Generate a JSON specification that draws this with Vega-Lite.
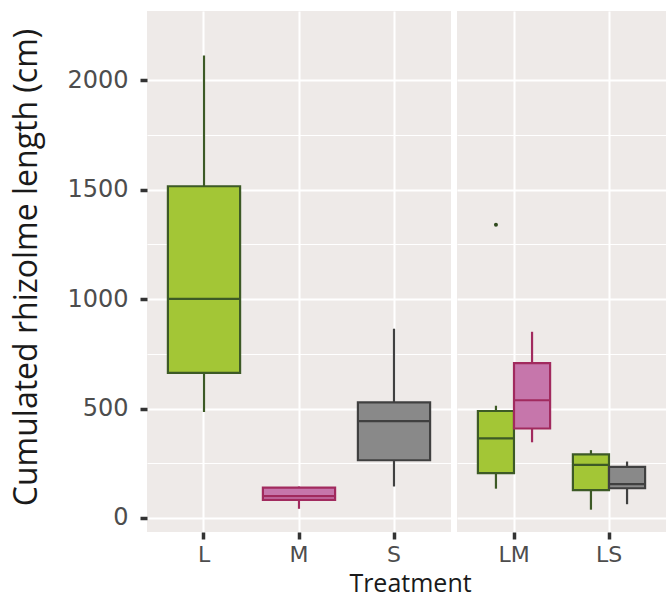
{
  "$schema": "https://vega.github.io/schema/vega-lite/v6.json",
  "background": "white",
  "padding": {"left": 10, "top": 11, "right": 0, "bottom": 0},
  "spacing": 6,
  "bounds": "flush",
  "config": {
    "view": {"stroke": null, "fill": "#EEEAE8"},
    "axis": {
      "domain": false,
      "tickColor": "#333333",
      "tickWidth": 3.5,
      "tickSize": 7,
      "labelColor": "#4D4D4D",
      "labelFont": "DejaVu Sans",
      "labelFontSize": 24,
      "gridColor": "white",
      "titleFont": "Open Sans",
      "titleFontWeight": "normal",
      "titleColor": "#1A1A1A"
    }
  },
  "datasets": {
    "boxes": [
      {"panel": "single", "treatment": "L", "sub": "a", "group": "L", "lo": 484, "q1": 663, "med": 1001, "q3": 1516, "hi": 2114},
      {"panel": "single", "treatment": "M", "sub": "a", "group": "M", "lo": 42, "q1": 83, "med": 100, "q3": 139, "hi": 144},
      {"panel": "single", "treatment": "S", "sub": "a", "group": "S", "lo": 144, "q1": 264, "med": 443, "q3": 528, "hi": 865},
      {"panel": "mix", "treatment": "LM", "sub": "a", "group": "L", "lo": 134, "q1": 205, "med": 364, "q3": 489, "hi": 513, "out": 1340},
      {"panel": "mix", "treatment": "LM", "sub": "b", "group": "M", "lo": 346, "q1": 409, "med": 538, "q3": 708, "hi": 851},
      {"panel": "mix", "treatment": "LS", "sub": "a", "group": "L", "lo": 38, "q1": 127, "med": 243, "q3": 291, "hi": 310},
      {"panel": "mix", "treatment": "LS", "sub": "b", "group": "S", "lo": 63, "q1": 136, "med": 155, "q3": 234, "hi": 258}
    ]
  },
  "hconcat": [
    {
      "width": 304,
      "height": 521,
      "data": {"name": "boxes"},
      "transform": [{"filter": "datum.panel === 'single'"}],
      "encoding": {
        "x": {
          "field": "treatment", "type": "nominal", "sort": ["L", "M", "S"],
          "scale": {"paddingInner": 0.24, "paddingOuter": 0.22},
          "axis": {
            "title": "Treatment", "titleFont": "Open Sans", "titleFontSize": 25, "titleFontWeight": "normal", "titleColor": "#1A1A1A",
            "titleX": 263, "titleY": 59, "titleBaseline": "alphabetic",
            "labelFont": "DejaVu Sans", "labelFontSize": 22, "labelColor": "#4D4D4D",
            "labelAngle": 0, "labelPadding": 5, "tickSize": 7, "tickWidth": 3.5, "tickColor": "#333333",
            "grid": true, "gridWidth": 2, "gridColor": "white"
          }
        }
      },
      "layer": [
        {
          "mark": {"type": "rule", "strokeWidth": 2.2},
          "encoding": {
            "y": {
              "field": "lo", "type": "quantitative",
              "scale": {"domain": [-64, 2317], "nice": false, "zero": false},
              "axis": {
                "title": "Cumulated rhizolme length (cm)", "titleFont": "Open Sans", "titleFontSize": 32, "titleFontWeight": "normal", "titleColor": "#1A1A1A",
                "titlePadding": 23, "titleY": 256,
                "labelFont": "DejaVu Sans", "labelFontSize": 24, "labelColor": "#4D4D4D", "labelPadding": 12,
                "tickSize": 7, "tickWidth": 3.5, "tickColor": "#333333",
                "values": [0, 250, 500, 750, 1000, 1250, 1500, 1750, 2000],
                "format": "d",
                "labelExpr": "datum.value % 500 === 0 ? datum.label : ''",
                "tickOpacity": {"condition": {"test": "datum.value % 500 === 0", "value": 1}, "value": 0},
                "grid": true, "gridColor": "white",
                "gridWidth": {"condition": {"test": "datum.value % 500 === 0", "value": 2}, "value": 1}
              }
            },
            "y2": {"field": "hi"},
            "stroke": {"field": "group", "type": "nominal", "scale": {"domain": ["L", "M", "S"], "range": ["#3D5A26", "#A12A5E", "#404040"]}, "legend": null}
          }
        },
        {
          "mark": {"type": "bar", "strokeWidth": 2.2},
          "encoding": {
            "y": {"field": "q1", "type": "quantitative"},
            "y2": {"field": "q3"},
            "fill": {"field": "group", "type": "nominal", "scale": {"domain": ["L", "M", "S"], "range": ["#A3C636", "#C676AB", "#898989"]}, "legend": null},
            "stroke": {"field": "group", "type": "nominal", "legend": null}
          }
        },
        {
          "mark": {"type": "bar", "strokeWidth": 2.2, "fill": null},
          "encoding": {
            "y": {"field": "med", "type": "quantitative"},
            "y2": {"field": "med"},
            "stroke": {"field": "group", "type": "nominal", "legend": null}
          }
        }
      ]
    },
    {
      "width": 209,
      "height": 521,
      "data": {"name": "boxes"},
      "transform": [{"filter": "datum.panel === 'mix'"}],
      "encoding": {
        "x": {
          "field": "treatment", "type": "nominal", "sort": ["LM", "LS"],
          "scale": {"paddingInner": 0.24, "paddingOuter": 0.22},
          "axis": {
            "title": null,
            "labelFont": "DejaVu Sans", "labelFontSize": 22, "labelColor": "#4D4D4D",
            "labelAngle": 0, "labelPadding": 5, "tickSize": 7, "tickWidth": 3.5, "tickColor": "#333333",
            "grid": true, "gridWidth": 2, "gridColor": "white"
          }
        },
        "xOffset": {"field": "sub", "type": "nominal", "scale": {"domain": ["a", "b"], "paddingInner": 0, "paddingOuter": 0}}
      },
      "layer": [
        {
          "mark": {"type": "rule", "strokeWidth": 2.2},
          "encoding": {
            "y": {
              "field": "lo", "type": "quantitative",
              "scale": {"domain": [-64, 2317], "nice": false, "zero": false},
              "axis": {
                "title": null, "labels": false, "ticks": false,
                "values": [0, 250, 500, 750, 1000, 1250, 1500, 1750, 2000],
                "grid": true, "gridColor": "white",
                "gridWidth": {"condition": {"test": "datum.value % 500 === 0", "value": 2}, "value": 1}
              }
            },
            "y2": {"field": "hi"},
            "stroke": {"field": "group", "type": "nominal", "scale": {"domain": ["L", "M", "S"], "range": ["#3D5A26", "#A12A5E", "#404040"]}, "legend": null}
          }
        },
        {
          "mark": {"type": "bar", "strokeWidth": 2.2},
          "encoding": {
            "y": {"field": "q1", "type": "quantitative"},
            "y2": {"field": "q3"},
            "fill": {"field": "group", "type": "nominal", "scale": {"domain": ["L", "M", "S"], "range": ["#A3C636", "#C676AB", "#898989"]}, "legend": null},
            "stroke": {"field": "group", "type": "nominal", "legend": null}
          }
        },
        {
          "mark": {"type": "bar", "strokeWidth": 2.2, "fill": null},
          "encoding": {
            "y": {"field": "med", "type": "quantitative"},
            "y2": {"field": "med"},
            "stroke": {"field": "group", "type": "nominal", "legend": null}
          }
        },
        {
          "mark": {"type": "point", "filled": true, "size": 16, "opacity": 1},
          "encoding": {
            "y": {"field": "out", "type": "quantitative"},
            "color": {"value": "#2F4A1E"}
          }
        }
      ]
    }
  ]
}
